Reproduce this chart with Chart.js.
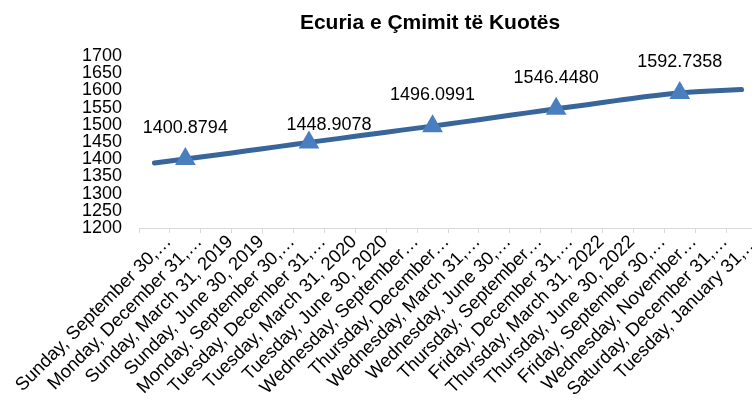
<!DOCTYPE html>
<html>
<head>
<meta charset="utf-8">
<script src="https://cdn.jsdelivr.net/npm/chart.js@4"></script>
<style>
  html, body { margin: 0; padding: 0; background: #fff; overflow: hidden; }
  canvas { display: block; }
</style>
</head>
<body>
<canvas id="chart" width="769" height="400"></canvas>
<script>
// ================= DATA =================
const TITLE = 'Ecuria e Çmimit të Kuotës';

const categories = [
  'Sunday, September 30,…', 'Monday, December 31,…', 'Sunday, March 31, 2019', 'Sunday, June 30, 2019',
  'Monday, September 30,…', 'Tuesday, December 31,…', 'Tuesday, March 31, 2020', 'Tuesday, June 30, 2020',
  'Wednesday, September…', 'Thursday, December…', 'Wednesday, March 31,…', 'Wednesday, June 30,…',
  'Thursday, September…', 'Friday, December 31,…', 'Thursday, March 31, 2022', 'Thursday, June 30, 2022',
  'Friday, September 30,…', 'Wednesday, November…', 'Saturday, December 31,…', 'Tuesday, January 31,…'
];

// vlerat e plota te linjes (te lexuara nga grafiku)
const prices = [
  1389, 1400.8794, 1412, 1424.5, 1436.5, 1448.9078, 1460.5, 1472.5, 1484.5, 1496.0991,
  1508.5, 1521, 1534, 1546.4480, 1558.5, 1571, 1583, 1592.7358, 1598.5, 1602.5
];

// pikat me trekendesh dhe etikete
const markedPrices = [
  null, 1400.8794, null, null, null, 1448.9078, null, null, null, 1496.0991,
  null, null, null, 1546.4480, null, null, null, 1592.7358, null, null
];

const yTicks = [1200, 1250, 1300, 1350, 1400, 1450, 1500, 1550, 1600, 1650, 1700];

// ================= STYLE =================
const FONT = '"Liberation Sans", Arial, sans-serif';
const LINE_COLOR = '#38659a';
const MARKER_COLOR = '#4a7fbf';
const AXIS_GRAY = '#d9d9d9';

Chart.defaults.font.family = FONT;
Chart.defaults.color = '#000';

// etiketa e dyte eshte zhvendosur me dore ne origjinal
const labelNudge = { 5: [20, 14] };

const valueLabels = {
  id: 'valueLabels',
  afterDatasetsDraw(chart) {
    const ctx = chart.ctx;
    const meta = chart.getDatasetMeta(1);
    ctx.save();
    ctx.font = '18px ' + FONT;
    ctx.fillStyle = '#000';
    ctx.textAlign = 'center';
    ctx.textBaseline = 'middle';
    meta.data.forEach((pt, i) => {
      const v = markedPrices[i];
      if (v == null) return;
      const n = labelNudge[i] || [0, 0];
      ctx.fillText(v.toFixed(4), pt.x + n[0], pt.y - 31 + n[1]);
    });
    ctx.restore();
  }
};

const titleText = {
  id: 'titleText',
  afterDraw(chart) {
    const ctx = chart.ctx;
    ctx.save();
    ctx.font = 'bold 21px ' + FONT;
    ctx.fillStyle = '#000';
    ctx.textAlign = 'center';
    ctx.textBaseline = 'middle';
    ctx.fillText(TITLE, 430, 23);
    ctx.restore();
  }
};

new Chart(document.getElementById('chart'), {
  type: 'line',
  data: {
    labels: categories,
    datasets: [
      {
        data: prices,
        borderColor: LINE_COLOR,
        borderWidth: 5,
        borderCapStyle: 'round',
        tension: 0.3,
        pointRadius: 0,
        fill: false,
        order: 1
      },
      {
        data: markedPrices,
        showLine: false,
        pointStyle: 'triangle',
        pointRadius: 12,
        pointBackgroundColor: MARKER_COLOR,
        pointBorderWidth: 0,
        order: 0
      }
    ]
  },
  options: {
    responsive: false,
    animation: false,
    layout: { padding: { top: 56, right: 4, left: 0, bottom: 0 } },
    plugins: { legend: { display: false }, tooltip: { enabled: false }, title: { display: false } },
    scales: {
      x: {
        offset: true,
        grid: { display: true, drawOnChartArea: false, drawTicks: true, tickLength: 5, color: AXIS_GRAY, offset: true },
        border: { display: true, color: AXIS_GRAY, width: 1 },
        ticks: { font: { size: 18.5 }, autoSkip: false, minRotation: 45, maxRotation: 45, padding: -2, labelOffset: 14 },
        afterFit: s => { s.height = 172; }
      },
      y: {
        min: 1200,
        max: 1700,
        grid: { display: false },
        border: { display: false },
        ticks: { font: { size: 18 }, autoSkip: false, padding: 9, callback: v => String(v) },
        afterBuildTicks: s => { s.ticks = yTicks.map(v => ({ value: v })); },
        afterFit: s => { s.width = 139; }
      }
    }
  },
  plugins: [valueLabels, titleText]
});
</script>
</body>
</html>
